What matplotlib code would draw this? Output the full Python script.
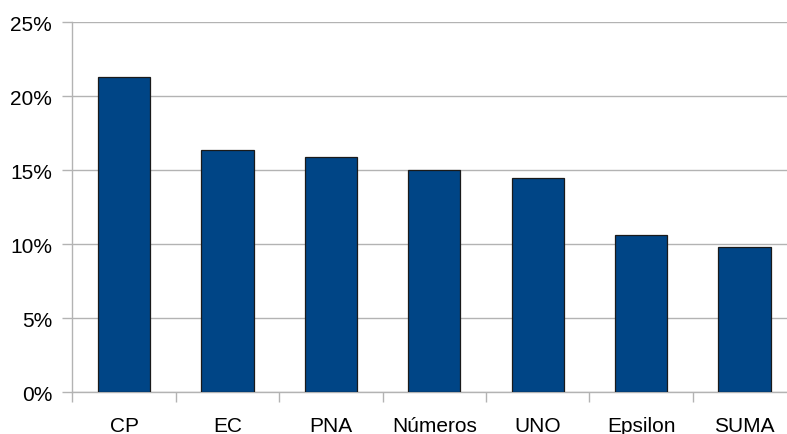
import matplotlib
matplotlib.use("Agg")
import matplotlib.pyplot as plt
import numpy as np
from matplotlib.ticker import FuncFormatter, MultipleLocator

# data (percent)
categories = ["CP", "EC", "PNA", "Números", "UNO", "Epsilon", "SUMA"]
shares = [21.33, 16.39, 15.92, 15.04, 14.48, 10.61, 9.80]

plt.rcParams['font.family'] = ['Liberation Sans', 'DejaVu Sans']

fig = plt.figure(figsize=(7.87, 4.35), dpi=100)
ax = fig.add_axes([0.0919, 0.0959, 0.9081, 0.8505])

x = np.arange(len(categories))
ax.bar(x, shares, width=0.505, color="#004586", edgecolor="#1a1a1a",
       linewidth=0.9, zorder=3)

ax.set_xlim(-0.5, 6.41)
ax.set_ylim(0, 25)

ax.yaxis.set_major_locator(MultipleLocator(5))
ax.yaxis.set_major_formatter(FuncFormatter(lambda v, p: "{:d}%".format(int(round(v)))))
ax.grid(axis="y", color="#b3b3b3", linewidth=1.0, zorder=0)

ax.set_xticks(x)
ax.set_xticklabels(categories)
ax.set_xticks(list(x[:-1] + 0.5) + [-0.5], minor=True)

ax.tick_params(axis="x", which="major", length=0, pad=17, labelsize=15)
ax.tick_params(axis="x", which="minor", length=7.5, color="#b3b3b3", width=1.0)
ax.tick_params(axis="y", length=7.5, color="#b3b3b3", width=1.0, pad=7, labelsize=15)

for s in ["top", "right"]:
    ax.spines[s].set_visible(False)
for s in ["left", "bottom"]:
    ax.spines[s].set_color("#b3b3b3")
    ax.spines[s].set_linewidth(1.0)

fig.savefig("out.png", dpi=100)
